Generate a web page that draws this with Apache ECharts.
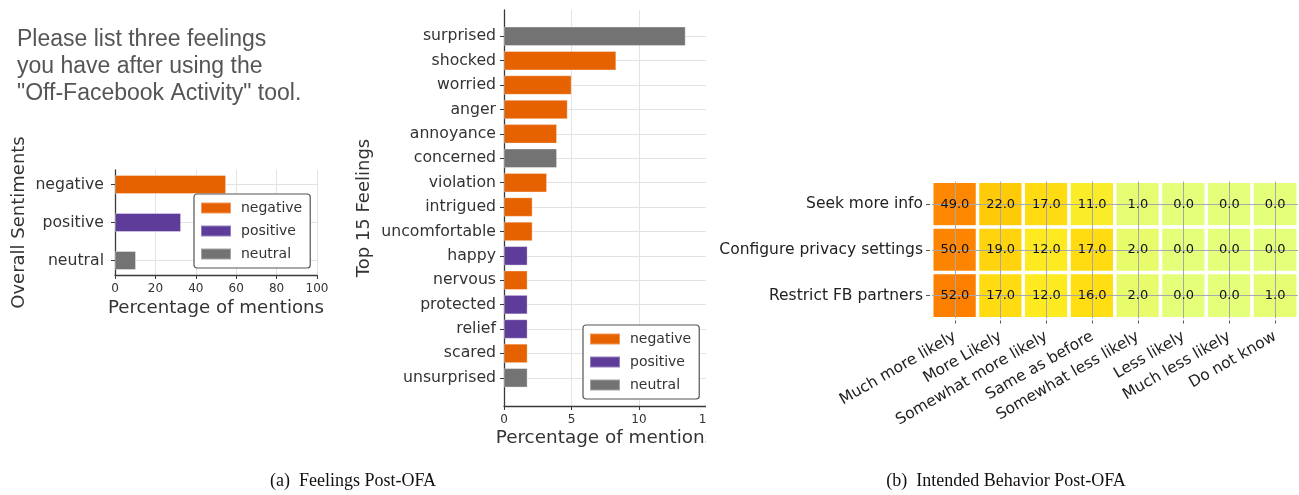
<!DOCTYPE html>
<html><head><meta charset="utf-8">
<script src="https://cdn.jsdelivr.net/npm/echarts@6/dist/echarts.min.js"></script>
<style>html,body{margin:0;padding:0;background:#fff}#c{width:1299px;height:495px}</style>
</head><body><div id="c"></div>
<script>
// ---- data ----
const sentimentCats = ['negative', 'positive', 'neutral'];
const sentimentVals = [55.0, 32.7, 10.4];
const sentimentTicks = [0, 20, 40, 60, 80, 100];

const feelingCats = ['surprised', 'shocked', 'worried', 'anger', 'annoyance', 'concerned', 'violation',
  'intrigued', 'uncomfortable', 'happy', 'nervous', 'protected', 'relief', 'scared', 'unsurprised'];
const feelingVals = [13.46, 8.32, 5.01, 4.72, 3.93, 3.93, 3.19, 2.12, 2.12, 1.75, 1.75, 1.75, 1.75, 1.75, 1.75];
const feelingSent = ['neutral', 'negative', 'negative', 'negative', 'negative', 'neutral', 'negative',
  'negative', 'negative', 'positive', 'negative', 'positive', 'positive', 'negative', 'neutral'];
const feelingTicks = [0, 5, 10, 15];

const behaviorCols = ['Much more likely', 'More Likely', 'Somewhat more likely', 'Same as before',
  'Somewhat less likely', 'Less likely', 'Much less likely', 'Do not know'];
const behaviorRows = ['Seek more info', 'Configure privacy settings', 'Restrict FB partners'];
const seekVals = [49, 22, 17, 11, 1, 0, 0, 0];
const configureVals = [50, 19, 12, 17, 2, 0, 0, 0];
const restrictVals = [52, 17, 12, 16, 2, 0, 0, 1];

const questionLines = ['Please list three feelings', 'you have after using the', '"Off-Facebook Activity" tool.'];

// ---- styles ----
const FONT = 'DejaVu Sans';
const sentColors = { negative: '#e66100', positive: '#5e3c99', neutral: '#737373' };
const wistia = ['#e4ff7a', '#ffe81a', '#ffbd00', '#ffa000', '#fc7f00'];
const gridLine = { show: true, lineStyle: { color: '#e3e3e3', width: 1 } };
const spine = { show: true, lineStyle: { color: '#3a3a3a', width: 1.3 } };
const tickLbl = { fontSize: 12, color: '#333', fontFamily: FONT, margin: 8 };

const behaviorMatrix = [seekVals, configureVals, restrictVals];
const heatData = [];
behaviorMatrix.forEach((row, r) => row.forEach((v, c) => heatData.push([c, r, v])));

function valueAxis(gridIndex, max, interval, visible) {
  return {
    type: 'value', gridIndex, min: 0, max, interval, show: visible,
    axisLine: spine, axisTick: { show: true, length: 4, lineStyle: { color: '#3a3a3a' } },
    axisLabel: tickLbl, splitLine: gridLine
  };
}
function spineY(gridIndex) {
  return { type: 'value', gridIndex, axisLine: spine, axisTick: { show: false },
    axisLabel: { show: false }, splitLine: { show: false } };
}
function catY(gridIndex, data, margin) {
  return {
    type: 'category', gridIndex, data, inverse: true, boundaryGap: false,
    axisLine: { show: false },
    axisTick: { show: true, length: 4, lineStyle: { color: '#3a3a3a' } },
    axisLabel: { fontSize: 15.7, color: '#333', fontFamily: FONT, margin, interval: 0 },
    splitLine: gridLine
  };
}
function barSeries(name, xi, yi, cats, vals, sentOf, width) {
  return {
    type: 'bar', name, xAxisIndex: xi, yAxisIndex: yi, stack: 'all' + xi,
    barWidth: width, clip: false,
    itemStyle: { color: sentColors[name], borderColor: 'rgba(255,255,255,0.35)', borderWidth: 1 },
    data: cats.map((c, i) => sentOf(i) === name ? vals[i] : '-'),
    animation: false
  };
}
function legend(left, top) {
  return {
    orient: 'vertical', left, top, data: sentimentCats, icon: 'rect',
    itemWidth: 30, itemHeight: 11, itemGap: 9, padding: [7, 8, 7, 6],
    borderColor: '#555', borderWidth: 1.2, borderRadius: 3, backgroundColor: '#fff',
    selectedMode: false,
    textStyle: { fontSize: 14, color: '#333', fontFamily: FONT, lineHeight: 14, padding: [0, 0, 0, 5] }
  };
}
function txt(text, x, y, size, opts) {
  opts = opts || {};
  return {
    type: 'text', x, y, rotation: opts.rot || 0, z: 50,
    style: {
      text, fontSize: size, fontFamily: opts.family || FONT, fill: opts.color || '#333',
      align: opts.align || 'center', verticalAlign: 'middle',
      textAlign: opts.align || 'center', textVerticalAlign: 'middle'
    }
  };
}

const series = [];
sentimentCats.forEach(s => series.push(barSeries(s, 1, 1, sentimentCats, sentimentVals, i => sentimentCats[i], 19)));
sentimentCats.forEach(s => series.push(barSeries(s, 3, 3, feelingCats, feelingVals, i => feelingSent[i], 19.5)));
// coloured cells
series.push({
  type: 'heatmap', xAxisIndex: 4, yAxisIndex: 4, data: heatData, z: 2,
  itemStyle: { borderColor: '#fff', borderWidth: 3.5 },
  label: { show: false },
  animation: false
});
const heatIndex = series.length - 1;
// grid lines through the cell centres
series.push({
  type: 'scatter', xAxisIndex: 4, yAxisIndex: 4, data: [], z: 4, silent: true,
  markLine: {
    silent: true, symbol: ['none', 'none'], label: { show: false }, animation: false,
    lineStyle: { color: '#a8a8a8', width: 1, type: 'solid' },
    data: behaviorCols.map(c => ({ xAxis: c })).concat(behaviorRows.map(r => ({ yAxis: r })))
  }
});
// value annotations on top
series.push({
  type: 'heatmap', xAxisIndex: 4, yAxisIndex: 4, data: heatData, z: 6, silent: true,
  itemStyle: { color: 'rgba(0,0,0,0)', borderWidth: 0 },
  label: { show: true, fontSize: 13, color: '#111', fontFamily: FONT, formatter: p => p.value[2].toFixed(1) },
  animation: false
});

const grids = [
  { left: 115, top: 170, width: 202, height: 105 },
  { left: 115, top: 184.5, width: 202, height: 76 },
  { left: 504, top: 10, width: 202.5, height: 396 },
  { left: 504, top: 36.3, width: 202.5, height: 341.5 },
  { left: 932, top: 181.5, width: 366, height: 137 }
].map(g => Object.assign({ containLabel: false, outerBoundsMode: 'none' }, g));

const option = {
  backgroundColor: '#fff',
  animation: false,
  grid: grids,
  xAxis: [
    valueAxis(0, sentimentTicks[sentimentTicks.length - 1], sentimentTicks[1] - sentimentTicks[0], true),
    valueAxis(1, sentimentTicks[sentimentTicks.length - 1], sentimentTicks[1] - sentimentTicks[0], false),
    valueAxis(2, feelingTicks[feelingTicks.length - 1], feelingTicks[1] - feelingTicks[0], true),
    valueAxis(3, feelingTicks[feelingTicks.length - 1], feelingTicks[1] - feelingTicks[0], false),
    {
      type: 'category', gridIndex: 4, data: behaviorCols,
      axisLine: { show: false },
      axisTick: { show: true, alignWithLabel: true, length: 5, lineStyle: { color: '#555' } },
      axisLabel: { rotate: 30, interval: 0, fontSize: 15.5, color: '#222', fontFamily: FONT, margin: 17 },
      splitLine: { show: false }
    }
  ],
  yAxis: [
    spineY(0), catY(1, sentimentCats, 11),
    spineY(2), catY(3, feelingCats, 8),
    {
      type: 'category', gridIndex: 4, data: behaviorRows, inverse: true,
      axisLine: { show: false },
      axisTick: { show: true, alignWithLabel: true, length: 6, lineStyle: { color: '#555' } },
      axisLabel: { fontSize: 15.5, color: '#222', fontFamily: FONT, margin: 9 },
      splitLine: { show: false }
    }
  ],
  visualMap: [{ show: false, seriesIndex: heatIndex, min: 0, max: 52, inRange: { color: wistia } }],
  legend: [legend(194, 194), legend(583, 325)],
  series,
  graphic: [
    txt(questionLines[0], 17, 40, 23, { align: 'left', color: '#555', family: 'Liberation Sans' }),
    txt(questionLines[1], 17, 67, 23, { align: 'left', color: '#555', family: 'Liberation Sans' }),
    txt(questionLines[2], 17, 94, 23, { align: 'left', color: '#555', family: 'Liberation Sans' }),
    txt('Overall Sentiments', 19, 222.5, 18, { rot: Math.PI / 2 }),
    txt('Percentage of mentions', 216, 308, 18.2),
    txt('Top 15 Feelings', 364, 208, 18, { rot: Math.PI / 2 }),
    txt('Percentage of mentions', 605, 438, 18.4),
    { type: 'rect', x: 706, y: 0, z: 100, shape: { width: 8, height: 470 }, style: { fill: '#fff' } },
    txt('(a)  Feelings Post-OFA', 353, 481, 18, { family: 'Liberation Serif', color: '#111' }),
    txt('(b)  Intended Behavior Post-OFA', 1006, 481, 18, { family: 'Liberation Serif', color: '#111' })
  ]
};
const chart = echarts.init(document.getElementById('c'), null, { renderer: 'canvas' });
chart.setOption(option);
</script>
</body></html>
